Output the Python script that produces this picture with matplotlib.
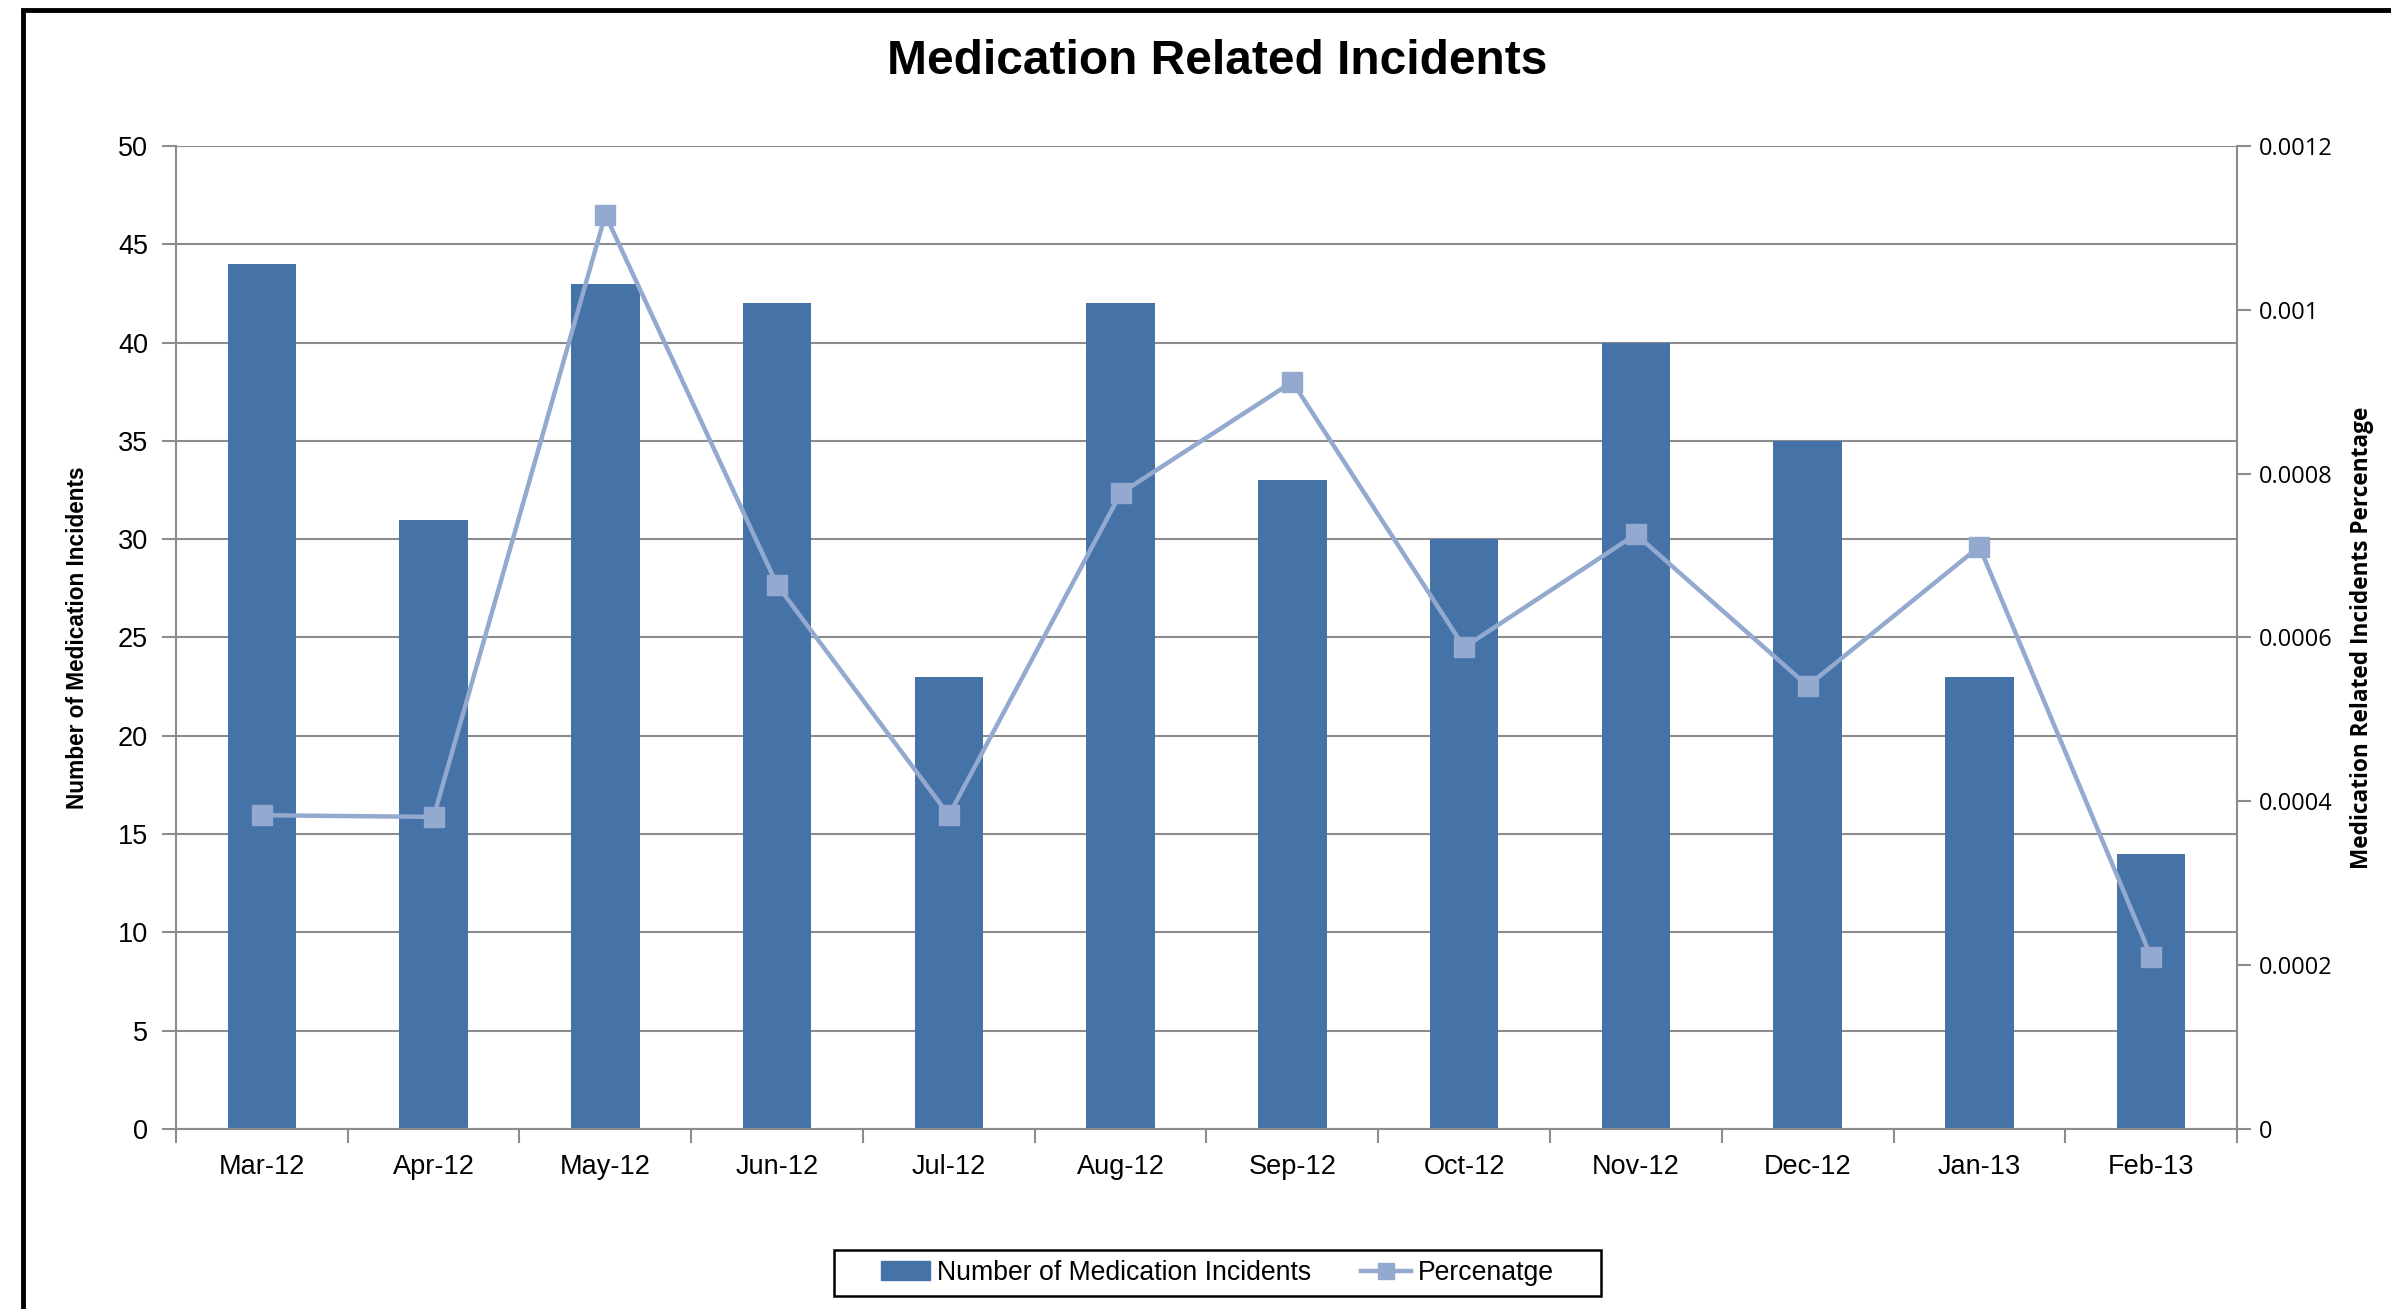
import numpy as np
import matplotlib.pyplot as plt
from matplotlib import patches
from matplotlib.lines import Line2D

months = ['Mar-12', 'Apr-12', 'May-12', 'Jun-12', 'Jul-12', 'Aug-12',
          'Sep-12', 'Oct-12', 'Nov-12', 'Dec-12', 'Jan-13', 'Feb-13']
incidents = [44, 31, 43, 42, 23, 42, 33, 30, 40, 35, 23, 14]
percentage = [0.000383, 0.000381, 0.001116, 0.000664, 0.000383, 0.000776,
              0.000912, 0.000588, 0.000726, 0.000541, 0.000711, 0.000210]
pct_ticks = ['0', '0.0002', '0.0004', '0.0006', '0.0008', '0.001', '0.0012']

bar_col = '#4572A7'
line_col = '#93A9CF'
grid_col = '#8c8c8c'

fig = plt.figure(figsize=(23.91, 13.09), dpi=100)
ax = fig.add_axes([0.0736, 0.1375, 0.862, 0.751])

x = np.arange(len(months))
ax.bar(x, incidents, width=0.4, color=bar_col, zorder=2)
ax.set_xlim(-0.5, len(months) - 0.5)
ax.set_ylim(0, 50)
ax.set_yticks(range(0, 51, 5))
ax.yaxis.grid(True, color=grid_col, lw=1.5, zorder=0)
ax.set_axisbelow(True)

# category labels in the middle, tick marks on the boundaries
ax.set_xticks(x)
ax.set_xticklabels(months, fontsize=19.5, family='Liberation Sans')
ax.set_xticks(np.arange(-0.5, len(months)), minor=True)
ax.tick_params(axis='x', which='major', length=0, pad=18)
ax.tick_params(axis='x', which='minor', length=10, width=1.5, color=grid_col)
ax.tick_params(axis='y', length=10, width=1.5, color=grid_col, pad=10)
for lab in ax.get_yticklabels():
    lab.set_fontsize(19.5)
    lab.set_family('Liberation Sans')

for s in ['top', 'right']:
    ax.spines[s].set_visible(False)
for s in ['left', 'bottom']:
    ax.spines[s].set_color(grid_col)
    ax.spines[s].set_linewidth(1.5)

ax.set_ylabel('Number of Medication Incidents', fontsize=16.3, fontweight='bold',
              family='Liberation Sans')
ax.yaxis.set_label_coords(-0.042, 0.5)

ax2 = ax.twinx()
ax2.plot(x, percentage, color=line_col, lw=3.2, marker='s', ms=14,
         markeredgecolor=line_col, zorder=3)
ax2.set_ylim(0, 0.0012)
ax2.set_yticks(np.arange(0, 0.00121, 0.0002))
ax2.set_yticklabels(pct_ticks, fontsize=17, family='Open Sans')
ax2.tick_params(axis='y', length=10, width=1.5, color=grid_col, pad=6)
for s in ['top', 'left', 'bottom']:
    ax2.spines[s].set_visible(False)
ax2.spines['right'].set_color(grid_col)
ax2.spines['right'].set_linewidth(1.5)
ax2.set_ylabel('Medication Related Incidents Percentage', fontsize=16.3,
               fontweight='bold', family='Open Sans')
ax2.yaxis.set_label_coords(1.055, 0.5)

fig.text(0.509, 0.953, 'Medication Related Incidents', ha='center', va='center',
         fontsize=34.5, fontweight='bold', family='Liberation Sans')

handles = [patches.Patch(color=bar_col),
           Line2D([], [], color=line_col, lw=3.2, marker='s', ms=12)]
leg = fig.legend(handles, ['Number of Medication Incidents', 'Percenatge'],
                 loc='center', bbox_to_anchor=(0.509, 0.0275), ncol=2,
                 frameon=False,
                 prop={'family': ['Liberation Sans Narrow', 'Liberation Sans'], 'size': 19.2},
                 handlelength=1.85, handletextpad=0.25, columnspacing=1.9)
# legend box
fig.add_artist(patches.Rectangle((834 / 2391, 13 / 1309), 767 / 2391, 46 / 1309,
                                 transform=fig.transFigure, fill=False,
                                 lw=1.8, ec='black'))

# outer border of the chart area
fig.add_artist(patches.Rectangle((23 / 2391, -0.1), 1.2, 1.1 - 10 / 1309,
                                 transform=fig.transFigure, fill=False,
                                 lw=3.5, ec='black'))

fig.savefig('out.png', dpi=100)
